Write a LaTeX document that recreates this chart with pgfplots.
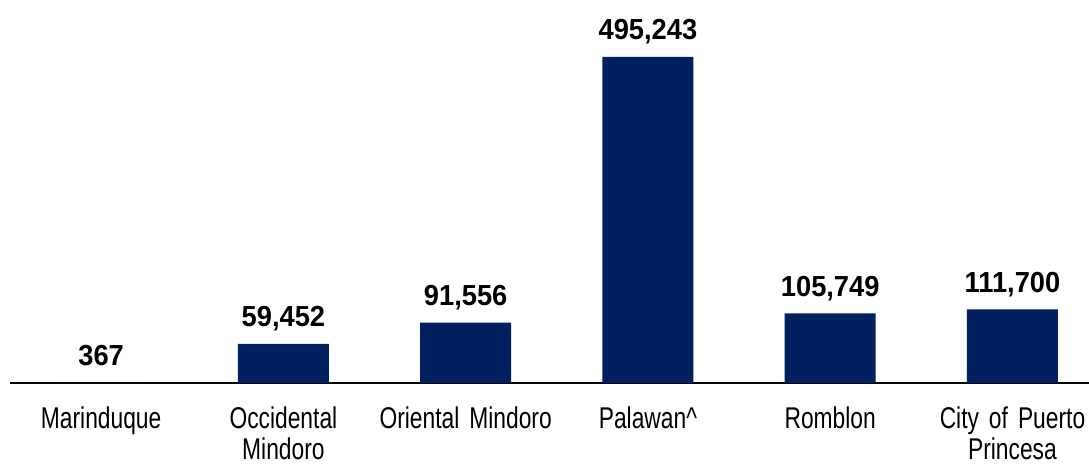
\documentclass[border=0pt]{standalone}
\usepackage{fontspec}
\setmainfont{Liberation Sans}
\newfontfamily\narrowfont[FakeStretch=0.76, WordSpace=0.7]{Liberation Sans}
\newfontfamily\numfont[FakeStretch=0.94]{Liberation Sans}
\usepackage{pgfplots}
\pgfplotsset{compat=1.18}
\definecolor{cNavy}{HTML}{002060}

\begin{document}
\begin{tikzpicture}
\useasboundingbox (0,0) rectangle (1089pt,464pt);
\begin{axis}[
    at={(10pt,81pt)}, anchor=south west,
    scale only axis, width=1079pt, height=383pt,
    ymin=0, ymax=581838,
    xmin=-0.5, xmax=5.42,
    ybar, bar width=91pt,
    axis x line*=bottom, axis y line=none,
    axis line style={black, line width=1.6pt},
    xtick=data, major tick length=0pt,
    xticklabels={Marinduque, Occidental Mindoro, Oriental Mindoro, Palawan\textasciicircum, Romblon, City of Puerto Princesa},
    xticklabel style={font=\narrowfont\fontsize{30}{31.5}\selectfont, text width=182pt, align=center, anchor=north, yshift=-20pt},
    clip=false,
    nodes near coords,
    every node near coord/.append style={font=\numfont\bfseries\fontsize{29}{32}\selectfont, anchor=base, yshift=17pt, black,
        /pgf/number format/.cd, fixed, precision=0, 1000 sep={,}, assume math mode=true},
]
\addplot[fill=cNavy, draw=none] coordinates {(0,367) (1,59452) (2,91556) (3,495243) (4,105749) (5,111700)};
\end{axis}
\end{tikzpicture}
\end{document}
